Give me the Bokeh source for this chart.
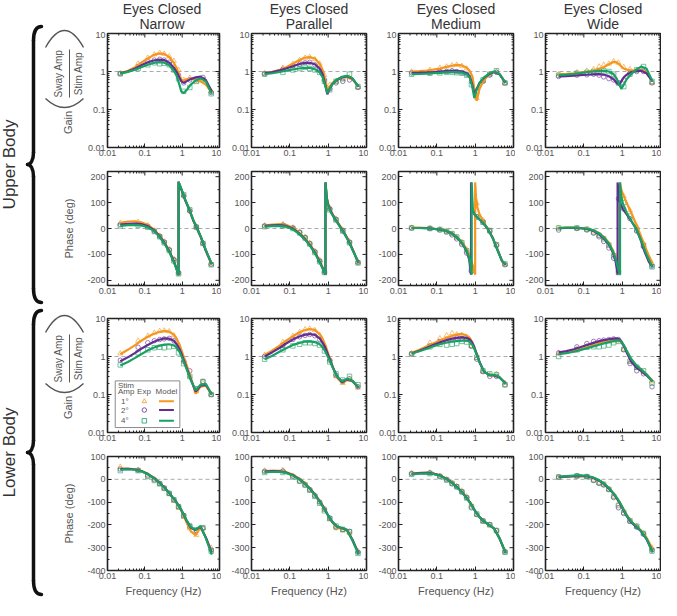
import math
from bokeh.plotting import figure
from bokeh.models import Range1d, FixedTicker, Span, CustomJSTickFormatter
from bokeh.layouts import row, column
from bokeh.embed import file_html
from bokeh.resources import INLINE
from bokeh.core.properties import value

FONT = "Liberation Sans"
ORANGE = "#F5961F"
PURPLE = "#652D90"
GREEN = "#19A063"
DARK = "#222222"
GRAY = "#555555"
SER_COLORS = [ORANGE, PURPLE, GREEN]
SER_MARKERS = ["triangle", "circle", "square"]

COL_KEYS = ["nar", "par", "med", "wid"]
COL_TITLES = ["Narrow", "Parallel", "Medium", "Wide"]
STIM_LABELS = ["1°", "2°", "4°"]

# ---------------- data ----------------
f_exp = [0.022, 0.066, 0.12, 0.18, 0.25, 0.33, 0.45, 0.6, 0.8, 1.1, 1.6, 2.4, 3.6, 6.0]
f_mod = [0.022, 0.035, 0.055, 0.08, 0.12, 0.17, 0.24, 0.33, 0.45, 0.6, 0.72, 0.84, 0.95, 1.1,
         1.3, 1.7, 2.3, 3.1, 4.3, 6.2]

# Upper body gain
ug_nar_m1 = [0.9, 1.05, 1.3, 1.7, 2.2, 2.7, 3.0, 2.9, 2.4, 1.7, 1.2, 0.8, 0.6, 0.58, 0.62, 0.65, 0.62, 0.55, 0.45, 0.28]
ug_nar_m2 = [0.9, 1.0, 1.2, 1.45, 1.75, 1.95, 2.05, 2.0, 1.7, 1.25, 0.95, 0.7, 0.55, 0.5, 0.55, 0.63, 0.7, 0.73, 0.6, 0.3]
ug_nar_m3 = [0.88, 0.98, 1.12, 1.3, 1.5, 1.68, 1.75, 1.7, 1.45, 1.05, 0.75, 0.45, 0.3, 0.27, 0.32, 0.45, 0.58, 0.66, 0.55, 0.26]
ug_nar_e1 = [0.9, 1.6, 2.3, 2.8, 3.1, 2.9, 2.5, 1.9, 1.1, 0.6, 0.68, 0.55, 0.6, 0.3]
ug_nar_e2 = [0.88, 1.35, 1.8, 2.0, 2.1, 2.0, 1.75, 1.3, 0.8, 0.5, 0.6, 0.62, 0.7, 0.28]
ug_nar_e3 = [0.87, 1.2, 1.5, 1.7, 1.6, 1.65, 1.5, 1.1, 0.65, 0.3, 0.38, 0.55, 0.6, 0.26]

ug_par_m1 = [0.9, 0.98, 1.1, 1.3, 1.6, 1.95, 2.3, 2.4, 2.2, 1.6, 1.1, 0.6, 0.32, 0.4, 0.5, 0.62, 0.7, 0.72, 0.62, 0.4]
ug_par_m2 = [0.9, 0.97, 1.07, 1.2, 1.38, 1.55, 1.68, 1.7, 1.55, 1.2, 0.85, 0.45, 0.25, 0.35, 0.47, 0.6, 0.7, 0.75, 0.65, 0.4]
ug_par_m3 = [0.85, 0.9, 0.97, 1.05, 1.13, 1.2, 1.25, 1.25, 1.15, 0.95, 0.7, 0.42, 0.27, 0.35, 0.48, 0.62, 0.72, 0.77, 0.66, 0.4]
ug_par_e1 = [0.9, 1.25, 1.6, 2.0, 2.3, 2.4, 2.1, 1.6, 0.8, 0.45, 0.55, 0.62, 0.7, 0.38]
ug_par_e2 = [0.88, 1.15, 1.4, 1.55, 1.7, 1.75, 1.5, 1.2, 0.6, 0.35, 0.5, 0.55, 0.6, 0.38]
ug_par_e3 = [0.85, 0.95, 1.1, 1.2, 1.3, 1.2, 1.1, 0.95, 0.55, 0.33, 0.55, 0.65, 0.85, 0.4]

ug_med_m1 = [1.0, 1.02, 1.06, 1.12, 1.2, 1.3, 1.42, 1.5, 1.45, 1.25, 1.05, 0.75, 0.35, 0.17, 0.35, 0.6, 0.82, 0.98, 0.85, 0.5]
ug_med_m2 = [0.92, 0.93, 0.95, 0.97, 1.0, 1.02, 1.04, 1.04, 1.0, 0.9, 0.75, 0.45, 0.25, 0.35, 0.5, 0.68, 0.85, 0.97, 0.85, 0.5]
ug_med_m3 = [0.85, 0.86, 0.88, 0.9, 0.92, 0.95, 0.96, 0.96, 0.93, 0.85, 0.7, 0.4, 0.2, 0.33, 0.5, 0.7, 0.88, 1.0, 0.87, 0.5]
ug_med_e1 = [1.0, 1.1, 1.25, 1.35, 1.45, 1.5, 1.4, 1.2, 0.7, 0.2, 0.55, 0.85, 1.0, 0.5]
ug_med_e2 = [0.92, 0.95, 1.0, 1.0, 1.05, 1.0, 0.95, 0.85, 0.55, 0.3, 0.55, 0.8, 0.95, 0.5]
ug_med_e3 = [0.85, 0.9, 0.92, 0.95, 0.95, 0.93, 0.9, 0.8, 0.45, 0.3, 0.6, 0.85, 1.05, 0.5]

ug_wid_m1 = [0.85, 0.87, 0.9, 0.93, 0.98, 1.05, 1.15, 1.3, 1.55, 1.8, 1.75, 1.55, 1.35, 1.2, 1.12, 1.08, 1.08, 1.1, 0.95, 0.55]
ug_wid_m2 = [0.74, 0.76, 0.78, 0.8, 0.82, 0.84, 0.85, 0.83, 0.75, 0.62, 0.5, 0.45, 0.55, 0.7, 0.82, 0.95, 1.02, 1.05, 0.9, 0.55]
ug_wid_m3 = [0.8, 0.83, 0.87, 0.91, 0.96, 1.0, 1.04, 1.05, 1.0, 0.85, 0.65, 0.45, 0.35, 0.45, 0.62, 0.85, 1.1, 1.35, 1.2, 0.55]
ug_wid_e1 = [0.85, 0.95, 1.05, 1.15, 1.35, 1.5, 1.6, 1.85, 1.7, 1.3, 1.15, 1.1, 1.1, 0.5]
ug_wid_e2 = [0.74, 0.8, 0.82, 0.85, 0.8, 0.72, 0.65, 0.6, 0.5, 0.6, 0.9, 1.0, 1.0, 0.5]
ug_wid_e3 = [0.8, 0.9, 0.95, 1.0, 1.05, 1.05, 1.0, 0.85, 0.5, 0.4, 0.85, 1.1, 1.35, 0.55]

# Upper body phase (model curves carry their own frequencies: they wrap at +-180)
up_nar_f = [0.022, 0.035, 0.055, 0.08, 0.12, 0.17, 0.24, 0.33, 0.45, 0.6, 0.7, 0.8, 0.8, 0.9, 1.0, 1.2, 1.5, 2.0, 2.5, 3.2, 4.3, 6.2]
up_nar_m1 = [22, 27, 28, 24, 14, -2, -25, -52, -85, -125, -152, -180, 180, 160, 142, 110, 78, 30, 0, -35, -85, -140]
up_nar_m2 = [15, 18, 19, 17, 9, -5, -27, -54, -87, -127, -154, -180, 180, 160, 142, 110, 78, 30, 0, -35, -85, -138]
up_nar_m3 = [10, 13, 14, 12, 5, -8, -30, -57, -90, -130, -156, -180, 180, 162, 145, 112, 80, 32, 2, -33, -83, -137]
up_nar_e1 = [22, 26, 12, -8, -28, -50, -80, -118, -172, 128, 70, 8, -55, -136]
up_nar_e2 = [15, 18, 8, -10, -30, -52, -82, -120, -170, 126, 68, 6, -57, -138]
up_nar_e3 = [10, 13, 5, -12, -32, -55, -85, -125, -175, 130, 72, 5, -58, -140]

up_par_f = [0.022, 0.035, 0.055, 0.08, 0.12, 0.17, 0.24, 0.33, 0.45, 0.6, 0.72, 0.85, 0.85, 0.92, 1.0, 1.2, 1.5, 2.0, 2.6, 3.4, 4.5, 6.2]
up_par_m1 = [12, 15, 17, 14, 3, -15, -35, -60, -90, -125, -150, -178, 178, 120, 95, 65, 40, 12, -15, -45, -85, -135]
up_par_m2 = [10, 12, 13, 10, 0, -18, -38, -63, -92, -128, -153, -178, 178, 118, 92, 62, 38, 10, -17, -47, -87, -133]
up_par_m3 = [7, 9, 10, 7, -3, -20, -40, -65, -95, -130, -155, -178, 178, 115, 88, 60, 36, 8, -18, -48, -88, -132]
up_par_e1 = [12, 17, 4, -12, -32, -55, -87, -122, -165, 80, 38, -5, -50, -130]
up_par_e2 = [10, 13, 2, -15, -35, -58, -90, -125, -168, 76, 35, -8, -53, -131]
up_par_e3 = [7, 10, 0, -17, -37, -60, -93, -128, -170, 72, 33, -10, -55, -133]

up_med_f1 = [0.022, 0.035, 0.055, 0.08, 0.12, 0.17, 0.24, 0.33, 0.45, 0.6, 0.72, 0.82, 0.92, 1.0, 1.0, 1.05, 1.15, 1.3, 1.6, 2.1, 2.9, 3.8, 5.0, 6.2]
up_med_m1 = [3, 3, 2, 0, -3, -8, -17, -32, -52, -80, -105, -130, -160, -178, 178, 120, 80, 55, 30, 0, -38, -80, -125, -140]
up_med_f2 = [0.022, 0.035, 0.055, 0.08, 0.12, 0.17, 0.24, 0.33, 0.45, 0.6, 0.7, 0.78, 0.78, 0.84, 0.95, 1.1, 1.3, 1.6, 2.1, 2.9, 3.8, 5.0, 6.2]
up_med_m2 = [2, 2, 1, -1, -4, -9, -18, -34, -56, -88, -120, -178, 178, 75, 55, 45, 35, 22, 0, -38, -82, -125, -140]
up_med_f3 = [0.022, 0.035, 0.055, 0.08, 0.12, 0.17, 0.24, 0.33, 0.45, 0.6, 0.72, 0.81, 0.81, 0.87, 0.95, 1.1, 1.3, 1.6, 2.1, 2.9, 3.8, 5.0, 6.2]
up_med_m3 = [2, 2, 1, -1, -4, -9, -18, -33, -55, -85, -120, -178, 178, 70, 55, 45, 35, 22, 0, -38, -82, -125, -138]
up_med_e1 = [3, 1, -3, -10, -20, -33, -52, -82, -140, 98, 32, -8, -62, -138]
up_med_e2 = [2, 0, -6, -14, -25, -40, -62, -95, -165, 45, 25, -10, -65, -140]
up_med_e3 = [2, 0, -4, -11, -20, -33, -55, -86, -160, 45, 24, -8, -63, -137]

up_wid_f1 = [0.022, 0.035, 0.055, 0.08, 0.12, 0.17, 0.24, 0.33, 0.45, 0.58, 0.7, 0.8, 0.87, 0.87, 0.95, 1.1, 1.4, 1.8, 2.5, 3.5, 4.8, 6.2]
up_wid_m1 = [2, 3, 3, 2, -1, -6, -16, -32, -55, -85, -120, -152, -178, 178, 150, 125, 90, 55, 5, -50, -100, -135]
up_wid_f2 = [0.022, 0.035, 0.055, 0.08, 0.12, 0.17, 0.24, 0.33, 0.45, 0.58, 0.68, 0.76, 0.76, 0.82, 0.9, 1.05, 1.3, 1.7, 2.3, 3.0, 3.9, 5.0, 6.2]
up_wid_m2 = [1, 2, 2, 1, -2, -8, -20, -38, -62, -95, -130, -178, 178, 120, 95, 75, 55, 30, 0, -42, -92, -130, -148]
up_wid_f3 = [0.022, 0.035, 0.055, 0.08, 0.12, 0.17, 0.24, 0.33, 0.45, 0.58, 0.7, 0.8, 0.88, 0.88, 0.95, 1.05, 1.3, 1.7, 2.3, 3.2, 4.3, 6.2]
up_wid_m3 = [2, 3, 3, 2, -1, -6, -17, -34, -58, -90, -125, -158, -178, 178, 125, 95, 62, 32, 0, -50, -100, -150]
up_wid_e1 = [2, 1, -3, -12, -24, -38, -62, -100, -162, 125, 70, 8, -57, -135]
up_wid_e2 = [-6, 0, -6, -18, -32, -50, -75, -115, 115, 75, 38, -10, -70, -145]
up_wid_e3 = [2, 2, -3, -14, -26, -40, -64, -105, -170, 100, 48, -5, -65, -148]

# Lower body gain
lg_nar_m1 = [1.15, 1.5, 2.0, 2.6, 3.3, 3.9, 4.4, 4.7, 4.5, 3.7, 2.9, 2.1, 1.5, 1.0, 0.62, 0.28, 0.105, 0.16, 0.17, 0.1]
lg_nar_m2 = [0.75, 0.95, 1.25, 1.6, 2.0, 2.4, 2.75, 3.0, 2.95, 2.6, 2.1, 1.6, 1.2, 0.8, 0.52, 0.25, 0.12, 0.17, 0.18, 0.1]
lg_nar_m3 = [0.58, 0.72, 0.92, 1.15, 1.45, 1.7, 1.9, 2.05, 2.1, 1.95, 1.7, 1.35, 1.05, 0.72, 0.48, 0.24, 0.13, 0.18, 0.19, 0.1]
lg_nar_e1 = [1.2, 2.6, 3.5, 4.2, 4.7, 4.8, 4.6, 3.6, 2.0, 0.8, 0.3, 0.12, 0.2, 0.1]
lg_nar_e2 = [0.8, 1.75, 2.3, 2.6, 2.8, 2.9, 3.0, 2.6, 1.6, 0.75, 0.42, 0.14, 0.22, 0.1]
lg_nar_e3 = [0.6, 1.25, 1.5, 1.7, 1.75, 1.7, 1.8, 1.85, 1.25, 0.65, 0.3, 0.14, 0.22, 0.1]

lg_par_m1 = [1.1, 1.45, 1.95, 2.6, 3.4, 4.2, 4.9, 5.3, 5.0, 3.9, 2.9, 2.0, 1.4, 0.9, 0.55, 0.28, 0.2, 0.24, 0.22, 0.15]
lg_par_m2 = [1.0, 1.3, 1.7, 2.2, 2.8, 3.3, 3.7, 3.9, 3.7, 3.0, 2.3, 1.7, 1.25, 0.85, 0.55, 0.3, 0.21, 0.25, 0.23, 0.15]
lg_par_m3 = [0.85, 1.05, 1.35, 1.65, 2.0, 2.25, 2.45, 2.5, 2.4, 2.1, 1.75, 1.35, 1.05, 0.78, 0.52, 0.3, 0.22, 0.26, 0.23, 0.15]
lg_par_e1 = [1.1, 2.4, 3.5, 4.4, 5.2, 5.4, 4.9, 3.6, 2.0, 0.85, 0.3, 0.2, 0.25, 0.15]
lg_par_e2 = [1.0, 2.0, 2.8, 3.3, 3.6, 3.8, 3.5, 2.8, 1.7, 0.8, 0.32, 0.22, 0.26, 0.16]
lg_par_e3 = [0.85, 1.5, 1.9, 2.1, 2.3, 2.3, 2.2, 2.0, 1.4, 0.72, 0.35, 0.24, 0.3, 0.18]

lg_med_m1 = [1.25, 1.5, 1.85, 2.2, 2.65, 3.05, 3.45, 3.8, 3.9, 3.6, 3.1, 2.4, 1.75, 1.15, 0.7, 0.4, 0.33, 0.32, 0.28, 0.2]
lg_med_m2 = [1.2, 1.42, 1.7, 2.0, 2.35, 2.65, 2.9, 3.1, 3.2, 3.1, 2.8, 2.3, 1.75, 1.15, 0.72, 0.4, 0.33, 0.32, 0.28, 0.2]
lg_med_m3 = [1.2, 1.38, 1.6, 1.85, 2.1, 2.3, 2.45, 2.55, 2.6, 2.6, 2.45, 2.05, 1.6, 1.1, 0.7, 0.4, 0.33, 0.33, 0.29, 0.19]
lg_med_e1 = [1.2, 2.3, 3.0, 3.6, 4.1, 3.8, 3.7, 3.1, 1.9, 0.9, 0.4, 0.33, 0.35, 0.2]
lg_med_e2 = [1.2, 1.9, 2.5, 2.7, 2.9, 3.1, 3.0, 2.8, 1.9, 0.85, 0.4, 0.3, 0.3, 0.18]
lg_med_e3 = [1.15, 1.8, 2.1, 2.0, 2.1, 2.2, 2.5, 2.4, 1.9, 0.95, 0.42, 0.35, 0.33, 0.18]

lg_wid_m1 = [1.2, 1.28, 1.4, 1.55, 1.75, 1.95, 2.15, 2.35, 2.5, 2.65, 2.75, 2.7, 2.45, 1.95, 1.4, 0.85, 0.58, 0.45, 0.34, 0.23]
lg_wid_m2 = [1.28, 1.38, 1.55, 1.75, 2.0, 2.25, 2.5, 2.7, 2.85, 2.95, 3.0, 2.85, 2.5, 1.9, 1.3, 0.75, 0.52, 0.42, 0.32, 0.22]
lg_wid_m3 = [1.15, 1.22, 1.33, 1.47, 1.65, 1.82, 2.0, 2.2, 2.38, 2.55, 2.65, 2.65, 2.45, 2.0, 1.45, 0.88, 0.6, 0.46, 0.34, 0.22]
lg_wid_e1 = [1.2, 1.6, 1.9, 2.1, 2.3, 2.4, 2.5, 2.6, 2.6, 1.6, 0.75, 0.5, 0.38, 0.22]
lg_wid_e2 = [1.25, 1.8, 2.2, 2.5, 2.6, 2.7, 2.8, 2.9, 2.8, 1.5, 0.65, 0.42, 0.35, 0.16]
lg_wid_e3 = [1.0, 1.5, 1.75, 1.8, 1.8, 1.9, 2.0, 2.3, 2.5, 1.55, 0.75, 0.52, 0.42, 0.2]

# Lower body phase
lp_nar_m1 = [47, 47, 44, 37, 24, 8, -12, -35, -60, -87, -105, -122, -138, -160, -188, -228, -245, -210, -255, -320]
lp_nar_m2 = [45, 46, 43, 36, 23, 7, -13, -35, -60, -86, -103, -120, -135, -155, -180, -212, -222, -207, -255, -322]
lp_nar_m3 = [43, 44, 42, 35, 22, 6, -14, -36, -61, -87, -104, -120, -135, -155, -178, -210, -220, -205, -258, -330]
lp_nar_e1 = [55, 40, 18, 0, -20, -40, -65, -95, -125, -165, -215, -245, -215, -300]
lp_nar_e2 = [45, 40, 15, -2, -18, -38, -62, -90, -120, -158, -205, -225, -215, -310]
lp_nar_e3 = [38, 38, 12, -5, -20, -40, -62, -90, -120, -160, -205, -222, -212, -315]

lp_par_m1 = [36, 38, 37, 32, 20, 5, -15, -38, -65, -95, -115, -135, -152, -170, -190, -210, -218, -222, -265, -325]
lp_par_m2 = [34, 36, 35, 30, 18, 3, -17, -40, -67, -97, -117, -136, -152, -170, -188, -207, -215, -222, -265, -325]
lp_par_m3 = [30, 33, 33, 28, 17, 2, -18, -41, -68, -98, -118, -137, -153, -170, -188, -206, -214, -222, -268, -330]
lp_par_e1 = [38, 40, 15, -5, -22, -45, -70, -100, -135, -175, -215, -225, -235, -315]
lp_par_e2 = [35, 36, 13, -8, -25, -45, -72, -100, -130, -170, -210, -220, -228, -320]
lp_par_e3 = [30, 30, 10, -8, -25, -48, -75, -105, -138, -172, -205, -220, -230, -325]

lp_med_m1 = [25, 28, 29, 26, 18, 5, -12, -32, -55, -80, -100, -118, -133, -150, -166, -185, -200, -215, -258, -322]
lp_med_m2 = [24, 27, 28, 25, 17, 4, -13, -33, -56, -81, -100, -118, -133, -150, -166, -185, -200, -215, -258, -322]
lp_med_m3 = [22, 25, 26, 24, 16, 3, -14, -34, -57, -82, -101, -119, -134, -150, -166, -185, -200, -215, -258, -322]
lp_med_e1 = [28, 30, 15, 0, -15, -30, -50, -75, -115, -155, -185, -200, -225, -315]
lp_med_e2 = [25, 28, 13, -2, -20, -32, -55, -80, -125, -155, -182, -198, -225, -318]
lp_med_e3 = [22, 25, 12, -3, -18, -33, -55, -82, -120, -152, -183, -200, -225, -320]

lp_wid_m1 = [10, 12, 14, 15, 14, 8, -3, -18, -38, -62, -80, -98, -113, -133, -155, -183, -205, -225, -255, -305]
lp_wid_m2 = [10, 12, 14, 15, 13, 7, -4, -20, -40, -64, -83, -101, -117, -138, -160, -188, -208, -228, -262, -318]
lp_wid_m3 = [12, 14, 16, 17, 15, 9, -2, -18, -38, -62, -80, -98, -114, -135, -157, -185, -205, -226, -260, -320]
lp_wid_e1 = [8, 12, 10, -2, -15, -22, -42, -72, -110, -140, -180, -205, -235, -300]
lp_wid_e2 = [10, 15, 12, -5, -18, -25, -45, -80, -125, -150, -185, -210, -240, -310]
lp_wid_e3 = [10, 15, 12, -3, -15, -22, -44, -75, -115, -145, -182, -206, -238, -315]

# tick values
log_major = [0.01, 0.1, 1, 10]
log_minor = [k * 10.0 ** e for e in (-2, -1, 0) for k in range(2, 10)]
up_major = [-200, -100, 0, 100, 200]
up_minor = [-150, -50, 50, 150]
lp_major = [-400, -300, -200, -100, 0, 100]
lp_minor = [-350, -250, -150, -50, 50]

# ---------------- tables built from the arrays ----------------
G = globals()
MODEL = {}
EXP = {}
for c, k in enumerate(COL_KEYS):
    MODEL[(0, c)] = [(f_mod, G[f"ug_{k}_m{i}"]) for i in (1, 2, 3)]
    EXP[(0, c)] = [G[f"ug_{k}_e{i}"] for i in (1, 2, 3)]
    if k in ("nar", "par"):
        MODEL[(1, c)] = [(G[f"up_{k}_f"], G[f"up_{k}_m{i}"]) for i in (1, 2, 3)]
    else:
        MODEL[(1, c)] = [(G[f"up_{k}_f{i}"], G[f"up_{k}_m{i}"]) for i in (1, 2, 3)]
    EXP[(1, c)] = [G[f"up_{k}_e{i}"] for i in (1, 2, 3)]
    MODEL[(2, c)] = [(f_mod, G[f"lg_{k}_m{i}"]) for i in (1, 2, 3)]
    EXP[(2, c)] = [G[f"lg_{k}_e{i}"] for i in (1, 2, 3)]
    MODEL[(3, c)] = [(f_mod, G[f"lp_{k}_m{i}"]) for i in (1, 2, 3)]
    EXP[(3, c)] = [G[f"lp_{k}_e{i}"] for i in (1, 2, 3)]

# ---------------- layout geometry ----------------
LEFT_W = 84
HEADER_H = 31
FRAME_W = 115
FRAME_H = 114
col_w = [137, 147, 147, 146]
col_bl = [20, 30, 30, 30]
col_br = [2, 2, 2, 1]
row_h = [136, 138, 147, 148]
row_bt = [2, 4, 13, 4]
row_bb = [20, 20, 20, 30]

fmt_code = "return String(tick)"


def style_axis(ax, major, minor):
    ax.ticker = FixedTicker(ticks=major, minor_ticks=minor)
    ax.formatter = CustomJSTickFormatter(code=fmt_code)
    ax.major_tick_in = 4
    ax.major_tick_out = 0
    ax.minor_tick_in = 2
    ax.minor_tick_out = 0
    ax.major_tick_line_color = DARK
    ax.minor_tick_line_color = DARK
    ax.axis_line_color = None
    ax.major_label_text_font = FONT
    ax.major_label_text_color = GRAY
    ax.major_label_text_font_size = "9px"
    ax.major_label_standoff = 2


def make_panel(r, c):
    is_log = r in (0, 2)
    if is_log:
        yr = Range1d(0.01, 10)
        ymaj, ymin = log_major, log_minor
    elif r == 1:
        yr = Range1d(-220, 220)
        ymaj, ymin = up_major, up_minor
    else:
        yr = Range1d(-400, 100)
        ymaj, ymin = lp_major, lp_minor
    p = figure(width=col_w[c], height=row_h[r], x_range=Range1d(0.01, 10), y_range=yr,
               x_axis_type="log", y_axis_type="log" if is_log else "linear",
               output_backend="svg", toolbar_location=None,
               min_border_left=col_bl[c], min_border_right=col_br[c],
               min_border_top=row_bt[r], min_border_bottom=row_bb[r])
    p.title.visible = False
    p.grid.visible = False
    p.outline_line_color = DARK
    p.outline_line_width = 1.6
    p.border_fill_color = "white"
    p.background_fill_color = "white"

    xb = p.xaxis[0]
    yl = p.yaxis[0]
    style_axis(xb, log_major, log_minor)
    style_axis(yl, ymaj, ymin)

    # mirrored tick marks on the top and right edges of the frame
    ytop = yr.end
    p.ray(x=log_major, y=[ytop] * len(log_major), length=4, length_units="screen",
          angle=-math.pi / 2, line_color=DARK, line_width=1)
    p.ray(x=log_minor, y=[ytop] * len(log_minor), length=2, length_units="screen",
          angle=-math.pi / 2, line_color=DARK, line_width=1)
    p.ray(x=[10] * len(ymaj), y=ymaj, length=4, length_units="screen",
          angle=math.pi, line_color=DARK, line_width=1)
    p.ray(x=[10] * len(ymin), y=ymin, length=2, length_units="screen",
          angle=math.pi, line_color=DARK, line_width=1)

    if r == 3:
        xb.axis_label = "Frequency (Hz)"
        xb.axis_label_text_font = FONT
        xb.axis_label_text_font_size = "11px"
        xb.axis_label_text_font_style = "normal"
        xb.axis_label_text_color = GRAY
        xb.axis_label_standoff = 3

    ref = Span(location=1 if is_log else 0, dimension="width", line_color="#AAAAAA",
               line_dash="4 3", line_width=1, level="underlay")
    p.add_layout(ref)

    for i in range(3):
        p.scatter(f_exp, EXP[(r, c)][i], marker=SER_MARKERS[i],
                  size=5 if i == 0 else 4.5,
                  line_color=SER_COLORS[i], fill_color=None, line_width=0.8, line_alpha=0.75)
    for i in range(3):
        fx, fy = MODEL[(r, c)][i]
        p.line(fx, fy, line_color=SER_COLORS[i], line_width=2.2)

    if r == 2 and c == 0:
        # legend box (placed in the panel's data space)
        p.quad(left=[0.0161], right=[0.867], bottom=[0.0135], top=[0.228],
               fill_color="white", line_color="#8A8A8A", line_width=1)
        tf = value(FONT)
        p.text(x=[0.019, 0.019], y=[0.175, 0.123], text=["Stim", "Amp"], text_font=tf,
               text_font_size="8px", text_color=GRAY, text_align="left", text_baseline="middle")
        p.text(x=[0.095, 0.38], y=[0.123, 0.123], text=["Exp", "Model"], text_font=tf,
               text_font_size="8px", text_color=GRAY, text_align="center", text_baseline="middle")
        ly = [0.066, 0.039, 0.0203]
        p.text(x=[0.0292] * 3, y=ly, text=STIM_LABELS, text_font=tf,
               text_font_size="8px", text_color=GRAY, text_align="center", text_baseline="middle")
        for i in range(3):
            p.scatter([0.097], [ly[i]], marker=SER_MARKERS[i], size=4.5,
                      line_color=SER_COLORS[i], fill_color=None, line_width=0.8)
            p.segment(x0=[0.24], y0=[ly[i]], x1=[0.6], y1=[ly[i]],
                      line_color=SER_COLORS[i], line_width=2)
    return p


panels = [[make_panel(r, c) for r in range(4)] for c in range(4)]

# ---------------- column titles ----------------
tf = value(FONT)
GRID_W = sum(col_w)
Hd = figure(width=GRID_W, height=HEADER_H, x_range=Range1d(0, GRID_W), y_range=Range1d(HEADER_H, 0),
            x_axis_type=None, y_axis_type=None, output_backend="svg", toolbar_location=None,
            min_border=0)
Hd.title.visible = False
Hd.outline_line_color = None
Hd.grid.visible = False
centers = []
acc = 0
for c in range(4):
    centers.append(acc + col_bl[c] + FRAME_W / 2.0)
    acc += col_w[c]
Hd.text(x=centers, y=[8] * 4, text=["Eyes Closed"] * 4, text_font=tf, text_font_size="14px",
        text_color="#333333", text_align="center", text_baseline="middle")
Hd.text(x=centers, y=[23] * 4, text=COL_TITLES, text_font=tf, text_font_size="14px",
        text_color="#333333", text_align="center", text_baseline="middle")

# ---------------- left annotation strip ----------------
TOTAL_H = HEADER_H + sum(row_h)
L = figure(width=LEFT_W, height=TOTAL_H, x_range=Range1d(0, LEFT_W), y_range=Range1d(TOTAL_H, 0),
           x_axis_type=None, y_axis_type=None, output_backend="svg", toolbar_location=None,
           min_border=0)
L.title.visible = False
L.outline_line_color = None
L.grid.visible = False

frame_tops = []
acc = HEADER_H
for r in range(4):
    frame_tops.append(acc + row_bt[r])
    acc += row_h[r]


def brace(y0, y1, xt=27, xs=33, xa=41):
    ym = (y0 + y1) / 2.0
    L.bezier(x0=[xa, xs, xt, xs], y0=[y0, ym - 12, ym, y1 - 14],
             x1=[xs, xt, xs, xa], y1=[y0 + 14, ym, ym + 12, y1],
             cx0=[xs + 2, xs, xt + 3, xs], cy0=[y0, ym - 4, ym, y1 - 5],
             cx1=[xs, xt + 3, xs, xs + 2], cy1=[y0 + 5, ym, ym + 4, y1],
             line_color="#111111", line_width=3.5, line_cap="round")
    L.segment(x0=[xs, xs], y0=[y0 + 14, ym + 12], x1=[xs, xs], y1=[ym - 12, y1 - 14],
              line_color="#111111", line_width=3.5, line_cap="round")
    return ym


ym_u = brace(26, 302)
ym_l = brace(310, 594)
L.text(x=[9, 9], y=[ym_u, ym_l], text=["Upper Body", "Lower Body"], angle=math.pi / 2,
       text_font=tf, text_font_size="17px", text_color="#333333",
       text_align="center", text_baseline="middle")

for T in (frame_tops[0], frame_tops[2]):
    L.text(x=[58, 78], y=[T + 40, T + 40], text=["Sway Amp", "Stim Amp"], angle=math.pi / 2,
           text_font=tf, text_font_size="10px", text_color=GRAY,
           text_align="center", text_baseline="middle")
    L.segment(x0=[69], y0=[T + 16], x1=[69], y1=[T + 64], line_color=GRAY, line_width=1)
    L.text(x=[67], y=[T + 89], text=["Gain"], angle=math.pi / 2,
           text_font=tf, text_font_size="11px", text_color=GRAY,
           text_align="center", text_baseline="middle")
    L.quadratic(x0=[45, 45], y0=[T + 14, T + 65], x1=[83, 83], y1=[T + 14, T + 65],
                cx=[64, 64], cy=[T - 20, T + 83], line_color=GRAY, line_width=1.4)

for T in (frame_tops[1], frame_tops[3]):
    L.text(x=[68], y=[T + FRAME_H / 2.0], text=["Phase (deg)"], angle=math.pi / 2,
           text_font=tf, text_font_size="11px", text_color=GRAY,
           text_align="center", text_baseline="middle")

grid = column(Hd, row(*[column(*panels[c]) for c in range(4)]))
layout = row(L, grid)
open("out.html", "w").write(file_html(layout, INLINE))
